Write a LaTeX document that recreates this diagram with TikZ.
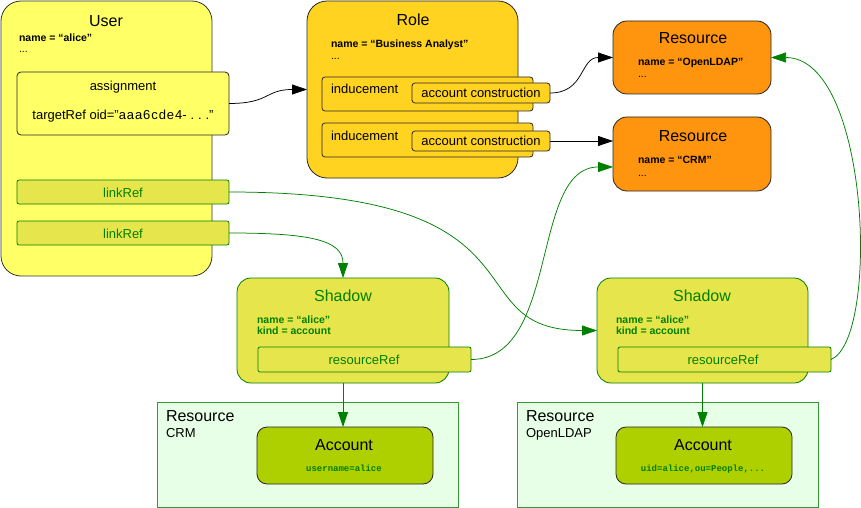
\documentclass[tikz,border=0pt]{standalone}
\usepackage{fontspec}
\setmainfont{Liberation Sans}
\setmonofont{Liberation Mono}
\usetikzlibrary{arrows.meta,calc}
\definecolor{userY}{HTML}{FFFF66}
\definecolor{roleY}{HTML}{FFD320}
\definecolor{resO}{HTML}{FF950E}
\definecolor{shY}{HTML}{E6E64C}
\definecolor{grn}{HTML}{008000}
\definecolor{contG}{HTML}{E6FFE6}
\definecolor{accG}{HTML}{AECF00}
\tikzset{
  box/.style={draw, rectangle, inner sep=0pt, outer sep=0pt, line width=0.8pt},
  userbox/.style={box, fill=userY, draw=black!80, rounded corners=20pt},
  assignbox/.style={box, fill=userY, draw=black!85, rounded corners=4pt},
  linkbox/.style={box, fill=shY, draw=grn, rounded corners=2pt},
  rolebox/.style={box, fill=roleY, draw=black!85, rounded corners=20pt},
  indbox/.style={box, fill=roleY, draw=black!85, rounded corners=3pt},
  resbox/.style={box, fill=resO, draw=black!85, rounded corners=14pt},
  shbox/.style={box, fill=shY, draw=grn, rounded corners=14pt},
  contbox/.style={box, fill=contG, draw=grn!80},
  accbox/.style={box, fill=accG, draw=black!85, rounded corners=10pt},
  txt/.style={inner sep=0pt, outer sep=0pt, anchor=base},
  ltxt/.style={inner sep=0pt, outer sep=0pt, anchor=base west},
  ttl/.style={txt, font=\fontsize{16}{18}\selectfont},
  mid/.style={txt, font=\fontsize{13}{15}\selectfont},
  lmid/.style={ltxt, font=\fontsize{13}{15}\selectfont},
  attr/.style={ltxt, font=\fontsize{10.5}{12}\selectfont\bfseries},
  dots/.style={ltxt, font=\fontsize{10.5}{12}\selectfont},
  mono/.style={txt, font=\fontsize{9}{10}\ttfamily\bfseries, text=grn},
  blk/.style={line width=0.75pt, draw=black, -{Triangle[length=15pt,width=10pt]}},
  grl/.style={line width=0.75pt, draw=grn, -{Triangle[length=15pt,width=10pt]}},
}
\begin{document}
\begin{tikzpicture}[x=1pt,y=-1pt]
\useasboundingbox (0,0) rectangle (861,508);
% User
\node[userbox, minimum width=211pt, minimum height=275pt] (user) at (106.5,138.5) {};
\node[ttl] (userT) at (106,27) {User};
\node[attr] (userN) at (19,42) {name = “alice”};
\node[dots] (userD) at (19,53) {...};
\node[assignbox, minimum width=212pt, minimum height=63pt] (assign) at (123,103.5) {};
\node[mid] (assignT) at (123,91) {assignment};
\node[mid] (assignR) at (123,120) {targetRef oid="{\addfontfeature{LetterSpace=7}aaa6cde4}{\addfontfeature{LetterSpace=30}-...}"};
\node[linkbox, minimum width=212pt, minimum height=24pt] (link1) at (123,192) {};
\node[mid, text=grn] (link1T) at (123,197) {linkRef};
\node[linkbox, minimum width=212pt, minimum height=24pt] (link2) at (123,233) {};
\node[mid, text=grn] (link2T) at (123,238) {linkRef};
% Role
\node[rolebox, minimum width=211pt, minimum height=177pt] (role) at (412.5,89.5) {};
\node[ttl] (roleT) at (413,26) {Role};
\node[attr] (roleN) at (331,48) {name = “Business Analyst”};
\node[dots] (roleD) at (331,60) {...};
\node[indbox, minimum width=211pt, minimum height=34pt] (ind1) at (427.5,94) {};
\node[lmid] (ind1T) at (331,94) {inducement};
\node[indbox, minimum width=138pt, minimum height=20pt] (ac1) at (481,93) {};
\node[mid] (ac1T) at (481,98) {account construction};
\node[indbox, minimum width=211pt, minimum height=34pt] (ind2) at (427.5,140) {};
\node[lmid] (ind2T) at (331,140) {inducement};
\node[indbox, minimum width=138pt, minimum height=20pt] (ac2) at (481,141) {};
\node[mid] (ac2T) at (481,145) {account construction};
% Resources
\node[resbox, minimum width=158pt, minimum height=73pt] (resL) at (692,57.5) {};
\node[ttl] (resLT) at (693,44) {Resource};
\node[attr] (resLN) at (638,66) {name = “OpenLDAP”};
\node[dots] (resLD) at (638,78) {...};
\node[resbox, minimum width=158pt, minimum height=74pt] (resC) at (692,154) {};
\node[ttl] (resCT) at (693,141) {Resource};
\node[attr] (resCN) at (638,163) {name = “CRM”};
\node[dots] (resCD) at (638,176) {...};
% Shadows
\node[shbox, minimum width=212pt, minimum height=105pt] (sh1) at (343,330.5) {};
\node[ttl, text=grn] (sh1T) at (343,301) {Shadow};
\node[attr, text=grn] (sh1N) at (257,323) {name = “alice”};
\node[attr, text=grn] (sh1K) at (257,334) {kind = account};
\node[linkbox, minimum width=213pt, minimum height=25pt] (rr1) at (364.5,359.5) {};
\node[mid, text=grn] (rr1T) at (364,364) {resourceRef};
\node[shbox, minimum width=211pt, minimum height=105pt] (sh2) at (702.5,330.5) {};
\node[ttl, text=grn] (sh2T) at (702,301) {Shadow};
\node[attr, text=grn] (sh2N) at (616,323) {name = “alice”};
\node[attr, text=grn] (sh2K) at (616,334) {kind = account};
\node[linkbox, minimum width=213pt, minimum height=25pt] (rr2) at (724.5,359.5) {};
\node[mid, text=grn] (rr2T) at (723,364) {resourceRef};
% Containers
\node[contbox, minimum width=301pt, minimum height=105pt] (cont1) at (307.5,454.5) {};
\node[ltxt, font=\fontsize{16}{18}\selectfont] (cont1T) at (166,421) {Resource};
\node[lmid] (cont1S) at (166,437) {CRM};
\node[accbox, minimum width=176pt, minimum height=57pt] (acc1) at (345,455.5) {};
\node[ttl] (acc1T) at (344,450) {Account};
\node[mono] (acc1M) at (344,471) {username=alice};
\node[contbox, minimum width=301pt, minimum height=105pt] (cont2) at (667.5,454.5) {};
\node[ltxt, font=\fontsize{16}{18}\selectfont] (cont2T) at (526,421) {Resource};
\node[lmid] (cont2S) at (526,437) {OpenLDAP};
\node[accbox, minimum width=176pt, minimum height=57pt] (acc2) at (704,455.5) {};
\node[ttl] (acc2T) at (703,450) {Account};
\node[mono] (acc2M) at (703,471) {uid=alice,ou=People,...};
% Connectors
\draw[blk] (assign.east) .. controls +(41,0) and +(-42,0) .. (role.west);
\draw[blk] (ac1.east) .. controls +(35,0) and +(-33,0) .. (resL.west);
\draw[blk] (ac2.east) -- (ac2.east -| resC.west);
\draw[grl] (link1.east) .. controls +(331,0) and +(-147,0) .. (sh2.west);
\draw[grl] (link2.east) .. controls +(81,0) and +(0,-38) .. (sh1.north);
\draw[grl] (rr1.east) .. controls +(89,0) and +(-83,0) .. ($(resC.west)+(0,13)$);
\draw[grl] (rr2.east) .. controls +(49,-20) and +(99,0) .. (resL.east);
\draw[grl] (sh1.south) -- (sh1.south |- acc1.north);
\draw[grl] (sh2.south) -- (sh2.south |- acc2.north);
\end{tikzpicture}
\end{document}
